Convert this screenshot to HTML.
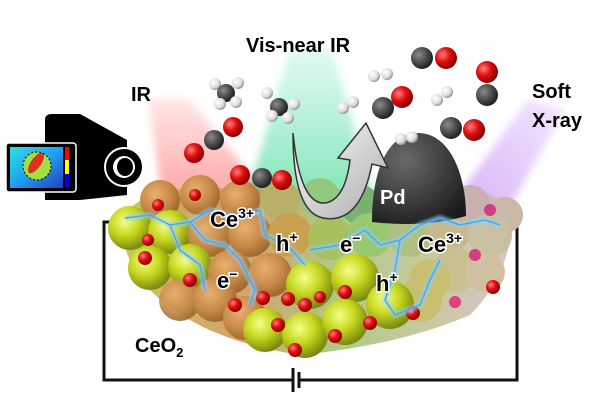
<!DOCTYPE html>
<html><head><style>
html,body{margin:0;padding:0;background:#fff;width:600px;height:420px;overflow:hidden}
text{font-family:"Liberation Sans",Arial,sans-serif;font-weight:bold}
</style></head><body>
<svg width="600" height="420" viewBox="0 0 600 420" xmlns="http://www.w3.org/2000/svg">
<defs>
<radialGradient id="ce" cx="0.38" cy="0.35" r="0.65"><stop offset="0" stop-color="#f4ff8a"/><stop offset="0.5" stop-color="#c8d820"/><stop offset="1" stop-color="#7d8a10"/></radialGradient>
<radialGradient id="ceo" cx="0.38" cy="0.35" r="0.65"><stop offset="0" stop-color="#e8b070"/><stop offset="0.6" stop-color="#c88a48"/><stop offset="1" stop-color="#a06a30"/></radialGradient>
<radialGradient id="ox" cx="0.35" cy="0.35" r="0.65"><stop offset="0" stop-color="#ff8080"/><stop offset="0.5" stop-color="#e01010"/><stop offset="1" stop-color="#900000"/></radialGradient>
<radialGradient id="cc" cx="0.35" cy="0.35" r="0.65"><stop offset="0" stop-color="#8a8a8a"/><stop offset="0.6" stop-color="#4a4a4a"/><stop offset="1" stop-color="#222"/></radialGradient>
<radialGradient id="hh" cx="0.35" cy="0.35" r="0.65"><stop offset="0" stop-color="#fff"/><stop offset="0.7" stop-color="#ddd"/><stop offset="1" stop-color="#999"/></radialGradient>
<radialGradient id="pd" cx="0.35" cy="0.3" r="0.8"><stop offset="0" stop-color="#6a6a6a"/><stop offset="0.6" stop-color="#3a3a3a"/><stop offset="1" stop-color="#1a1a1a"/></radialGradient>
<linearGradient id="rb" x1="0" y1="0" x2="0" y2="1"><stop offset="0" stop-color="#ff6060" stop-opacity="0.15"/><stop offset="1" stop-color="#ff4040" stop-opacity="0.55"/></linearGradient>
<linearGradient id="gb" x1="0" y1="0" x2="0" y2="1"><stop offset="0" stop-color="#40e0a0" stop-opacity="0.15"/><stop offset="1" stop-color="#20d080" stop-opacity="0.6"/></linearGradient>
<linearGradient id="pb" x1="1" y1="0" x2="0" y2="1"><stop offset="0" stop-color="#c080ff" stop-opacity="0.2"/><stop offset="1" stop-color="#b070f0" stop-opacity="0.55"/></linearGradient>
<linearGradient id="base" x1="0" y1="0" x2="1" y2="0"><stop offset="0" stop-color="#b8c040"/><stop offset="0.3" stop-color="#d09050"/><stop offset="0.55" stop-color="#a0c070"/><stop offset="0.8" stop-color="#c0c090"/><stop offset="1" stop-color="#d0b8c0"/></linearGradient>
<linearGradient id="arr" x1="0" y1="0" x2="1" y2="1"><stop offset="0" stop-color="#fff"/><stop offset="1" stop-color="#aaa"/></linearGradient>
<filter id="bl" x="-20%" y="-20%" width="140%" height="140%"><feGaussianBlur stdDeviation="4"/></filter>
<filter id="gl"><feGaussianBlur stdDeviation="1.2"/></filter>
<linearGradient id="th" x1="0" y1="0" x2="1" y2="1"><stop offset="0" stop-color="#30e0e0"/><stop offset="0.5" stop-color="#20a0f0"/><stop offset="1" stop-color="#2040c0"/></linearGradient>
</defs>

<!-- beams -->
<polygon points="148,100 188,98 275,205 165,215" fill="url(#rb)" filter="url(#bl)"/>
<polygon points="290,48 332,48 375,205 245,205" fill="url(#gb)" filter="url(#bl)"/>
<polygon points="528,100 565,110 505,215 455,200" fill="url(#pb)" filter="url(#bl)"/>

<!-- labels top -->
<text x="131" y="101" font-size="20">IR</text>
<text x="246" y="52" font-size="20">Vis-near IR</text>
<text x="532" y="98" font-size="20">Soft</text>
<text x="532" y="127" font-size="20">X-ray</text>

<!-- camera -->
<path d="M45,120 Q45,114 52,114 L80,114 L127,140 L127,195 L80,200 L45,200 Z" fill="#000"/>
<circle cx="124" cy="167" r="19" fill="#000" stroke="#fff" stroke-width="2"/>
<circle cx="124" cy="167" r="11" fill="#fff"/>
<ellipse cx="125" cy="167" rx="8" ry="9" fill="#000"/>
<rect x="6" y="143" width="70" height="49" rx="3" fill="#000" stroke="#fff" stroke-width="1.5"/>
<rect x="10" y="147" width="53" height="41" fill="url(#th)"/>
<ellipse cx="37" cy="166" rx="14" ry="14" fill="#a0e040"/>
<ellipse cx="36" cy="163" rx="5" ry="12" transform="rotate(35 36 163)" fill="#e03020"/>
<circle cx="37" cy="166" r="14" fill="none" stroke="#000" stroke-dasharray="2,2"/>
<rect x="65" y="147" width="4" height="41" fill="#f00"/><rect x="65" y="160" width="4" height="14" fill="#ff0"/><rect x="65" y="174" width="4" height="14" fill="#00f"/>

<!-- circuit -->
<path d="M135,222 L104,222 L104,380 L293,380 M299,380 L517,380 L517,223 L490,223" fill="none" stroke="#111" stroke-width="3"/>
<line x1="293" y1="368" x2="293" y2="392" stroke="#111" stroke-width="3"/>
<line x1="299" y1="372" x2="299" y2="388" stroke="#111" stroke-width="3"/>

<!-- base blob -->
<path d="M125,215 Q140,190 200,188 L470,190 Q515,195 512,230 Q505,280 470,315 Q400,345 300,355 Q200,340 150,290 Q115,250 125,215 Z" fill="url(#base)" opacity="0.85"/>

<!-- ceria spheres -->
<g>
<circle cx="160" cy="200" r="20" fill="url(#ceo)"/><circle cx="200" cy="195" r="20" fill="url(#ceo)"/><circle cx="240" cy="200" r="20" fill="url(#ceo)"/><circle cx="280" cy="200" r="20" fill="#b8b068"/><circle cx="320" cy="198" r="20" fill="#90c880"/><circle cx="360" cy="205" r="20" fill="#7ab070"/><circle cx="470" cy="205" r="20" fill="#c8b0b0"/><circle cx="505" cy="215" r="18" fill="#c8b8a8"/>
<circle cx="130" cy="228" r="22" fill="url(#ce)"/><circle cx="170" cy="232" r="22" fill="url(#ce)"/><circle cx="210" cy="235" r="22" fill="url(#ceo)"/><circle cx="250" cy="235" r="22" fill="url(#ceo)"/><circle cx="290" cy="235" r="22" fill="#c8a050"/><circle cx="330" cy="238" r="22" fill="#a8c060"/><circle cx="370" cy="235" r="22" fill="#98c870"/><circle cx="410" cy="235" r="22" fill="#b0c080"/><circle cx="450" cy="230" r="22" fill="#c8b890"/><circle cx="490" cy="235" r="22" fill="#c8c0a0"/>
<circle cx="150" cy="268" r="22" fill="url(#ce)"/><circle cx="190" cy="266" r="22" fill="url(#ce)"/><circle cx="230" cy="272" r="22" fill="url(#ceo)"/><circle cx="270" cy="275" r="22" fill="url(#ceo)"/><circle cx="455" cy="270" r="22" fill="#c8c090"/><circle cx="485" cy="272" r="20" fill="#d0c0a0"/><circle cx="430" cy="280" r="21" fill="#c8c070"/>
<circle cx="180" cy="300" r="21" fill="url(#ceo)" opacity="0.9"/><circle cx="215" cy="300" r="22" fill="url(#ceo)"/><circle cx="420" cy="300" r="22" fill="#c8c070"/>
<circle cx="245" cy="318" r="22" fill="url(#ceo)"/>
<circle cx="310" cy="285" r="24" fill="url(#ce)"/><circle cx="355" cy="278" r="24" fill="url(#ce)"/><circle cx="390" cy="305" r="24" fill="url(#ce)"/>
<circle cx="265" cy="330" r="22" fill="url(#ce)"/><circle cx="305" cy="335" r="23" fill="url(#ce)"/><circle cx="345" cy="322" r="23" fill="url(#ce)"/>
</g>
<!-- oxygen -->
<g fill="url(#ox)">
<circle cx="158" cy="205" r="6"/><circle cx="195" cy="195" r="6"/><circle cx="145" cy="258" r="7"/><circle cx="190" cy="280" r="7"/><circle cx="235" cy="305" r="7"/><circle cx="263" cy="298" r="7"/><circle cx="288" cy="299" r="7"/><circle cx="305" cy="305" r="7"/><circle cx="278" cy="325" r="7"/><circle cx="320" cy="297" r="6"/><circle cx="345" cy="292" r="7"/><circle cx="370" cy="323" r="7"/><circle cx="335" cy="336" r="7"/><circle cx="295" cy="350" r="7"/><circle cx="413" cy="313" r="7"/><circle cx="493" cy="287" r="7"/><circle cx="455" cy="302" r="6" fill="#e04080"/><circle cx="475" cy="255" r="6" fill="#d04080"/><circle cx="490" cy="210" r="6" fill="#d04080"/><circle cx="148" cy="240" r="6"/>
</g>

<!-- Pd dome -->
<path d="M372,222 C372,162 392,133 418,133 C450,133 466,175 466,216 Q425,228 372,222 Z" fill="url(#pd)"/>
<text x="380" y="204" font-size="20" fill="#fff">Pd</text>

<!-- curved arrow -->
<path d="M293,133 Q300,205 325,203 Q345,200 350,160 L338,158 L366,123 L388,168 L372,164 Q360,225 323,218 Q293,212 293,133 Z" fill="url(#arr)" stroke="#333" stroke-width="1.5"/>

<!-- molecules -->
<g>
<circle cx="233" cy="127" r="10" fill="url(#ox)"/><circle cx="214" cy="140" r="10" fill="url(#cc)"/><circle cx="194" cy="153" r="10" fill="url(#ox)"/>
<circle cx="240" cy="175" r="10" fill="url(#ox)"/><circle cx="282" cy="180" r="10" fill="url(#ox)"/><circle cx="262" cy="178" r="10" fill="url(#cc)"/>
<circle cx="215" cy="84" r="6" fill="url(#hh)"/><circle cx="238" cy="83" r="6" fill="url(#hh)"/><circle cx="226" cy="93" r="9" fill="url(#cc)"/><circle cx="220" cy="104" r="6" fill="url(#hh)"/><circle cx="236" cy="102" r="6" fill="url(#hh)"/>
<circle cx="267" cy="93" r="6" fill="url(#hh)"/><circle cx="279" cy="107" r="9" fill="url(#cc)"/><circle cx="294" cy="104" r="6" fill="url(#hh)"/><circle cx="288" cy="118" r="6" fill="url(#hh)"/><circle cx="272" cy="116" r="6" fill="url(#hh)"/>
<circle cx="343" cy="108" r="6" fill="url(#hh)"/><circle cx="353" cy="102" r="6" fill="url(#hh)"/>
<circle cx="374" cy="76" r="6" fill="url(#hh)"/><circle cx="387" cy="74" r="6" fill="url(#hh)"/>
<circle cx="402" cy="97" r="11" fill="url(#ox)"/><circle cx="383" cy="108" r="11" fill="url(#cc)"/>
<circle cx="446" cy="58" r="11" fill="url(#ox)"/><circle cx="422" cy="58" r="11" fill="url(#cc)"/>
<circle cx="437" cy="100" r="6" fill="url(#hh)"/><circle cx="447" cy="92" r="6" fill="url(#hh)"/>
<circle cx="487" cy="72" r="11" fill="url(#ox)"/><circle cx="487" cy="95" r="11" fill="url(#cc)"/>
<circle cx="474" cy="130" r="11" fill="url(#ox)"/><circle cx="451" cy="128" r="11" fill="url(#cc)"/>
<circle cx="401" cy="139" r="6" fill="url(#hh)"/><circle cx="412" cy="137" r="6" fill="url(#hh)"/>
</g>

<!-- lightning -->
<g fill="none" stroke-linejoin="round">
<g stroke="#8fd0ff" stroke-width="6" opacity="0.6" filter="url(#gl)">
<path d="M125,218 L150,215 L170,225 L190,222 L205,240 L225,245 L240,260 L255,290 L250,305 M170,225 L180,250 L200,265 L205,290 M190,222 L210,210 L240,218 L260,210 M260,210 L265,235 L290,248 L305,265 M310,250 L340,245 L365,230 L380,245 L400,240 L420,225 L440,218 L460,225 L485,220 L500,225 M400,240 L395,270 L385,300 L395,315 L420,305 L430,280 L440,260"/>
</g>
<g stroke="#4aa8f0" stroke-width="1.5">
<path d="M125,218 L150,215 L170,225 L190,222 L205,240 L225,245 L240,260 L255,290 L250,305 M170,225 L180,250 L200,265 L205,290 M190,222 L210,210 L240,218 L260,210 M260,210 L265,235 L290,248 L305,265 M310,250 L340,245 L365,230 L380,245 L400,240 L420,225 L440,218 L460,225 L485,220 L500,225 M400,240 L395,270 L385,300 L395,315 L420,305 L430,280 L440,260"/>
</g>
</g>

<!-- charge labels -->
<g font-size="22" fill="#000" stroke="#fff" stroke-width="3" paint-order="stroke" style="font-family:'Liberation Sans',sans-serif;font-weight:bold">
<text x="210" y="227">Ce<tspan font-size="14" dy="-9">3+</tspan></text>
<text x="276" y="251">h<tspan font-size="14" dy="-9">+</tspan></text>
<text x="340" y="252">e<tspan font-size="14" dy="-9">−</tspan></text>
<text x="418" y="252">Ce<tspan font-size="14" dy="-9">3+</tspan></text>
<text x="217" y="288">e<tspan font-size="14" dy="-9">−</tspan></text>
<text x="376" y="291">h<tspan font-size="14" dy="-9">+</tspan></text>
</g>
<text x="135" y="352" font-size="20">CeO<tspan font-size="13" dy="5">2</tspan></text>
</svg>
</body></html>
